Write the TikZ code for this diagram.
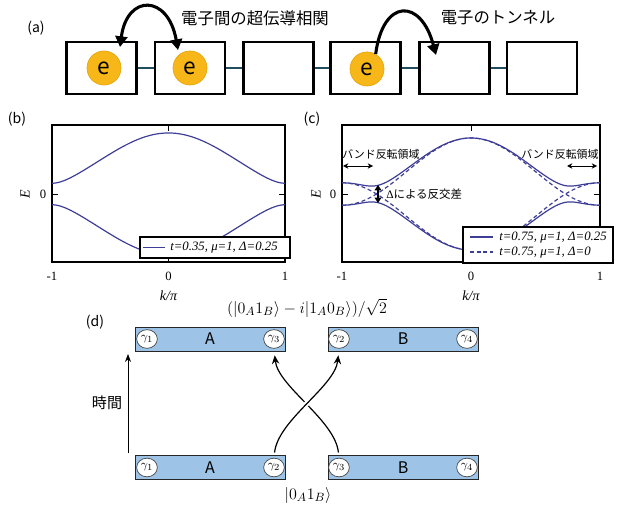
\documentclass[tikz,border=0pt]{standalone}
\usepackage{fontspec}
\setmainfont{Liberation Serif}
\newfontfamily\jp{Noto Sans CJK JP}
\usetikzlibrary{arrows.meta,shapes.geometric}
\definecolor{eorange}{HTML}{F7B718}
\definecolor{eborder}{HTML}{E6A40C}
\definecolor{bandblue}{HTML}{3E3E98}
\definecolor{barblue}{HTML}{9DC3E6}
\definecolor{linkteal}{HTML}{1F4E5F}
\tikzset{
  site/.style={draw=black,line width=2pt,minimum width=52.5pt,minimum height=39pt,inner sep=0pt},
  electron/.style={circle,fill=eorange,draw=eborder,line width=0.5pt,minimum size=25.5pt,inner sep=0pt,font=\jp\fontsize{17}{17}\selectfont},
  link/.style={draw=linkteal,line width=0.8pt},
  hop/.style={line width=2.3pt},
  hoptip/.style={-{Triangle[length=8pt,width=9pt]}},
  band/.style={draw=bandblue,line width=0.9pt},
  frame/.style={draw=black,line width=0.9pt},
  ticklab/.style={font=\fontsize{9.5}{10}\selectfont},
  axlab/.style={font=\fontsize{10.5}{11}\selectfont\itshape},
  panel/.style={font=\jp\fontsize{10.5}{11}\selectfont},
  jlabel/.style={font=\jp\fontsize{12.3}{13}\selectfont},
  note/.style={font=\jp\fontsize{8.2}{9}\selectfont,inner sep=0pt},
  legbox/.style={draw=black,line width=0.9pt,fill=white,inner sep=0pt},
  legtext/.style={font=\fontsize{9.6}{10}\selectfont\itshape,anchor=west,inner sep=0pt},
  bar/.style={draw=black!85,line width=0.7pt,fill=barblue,minimum width=112.5pt,minimum height=18pt,inner sep=0pt},
  barlab/.style={font=\jp\fontsize{12}{12}\selectfont,inner sep=0pt},
  mf/.style={ellipse,draw=black!75,line width=0.5pt,fill=white,minimum width=15.5pt,minimum height=14pt,inner sep=0pt,font=\fontsize{9.5}{9.5}\selectfont},
  braid/.style={line width=0.9pt,-{Stealth[length=6.5pt,width=5.5pt]},shorten <=4pt,shorten >=5pt},
  thinarr/.style={line width=0.6pt,{Stealth[length=4pt,width=4pt]}-{Stealth[length=4pt,width=4pt]}},
}
\begin{document}
\begin{tikzpicture}[x=0.75pt,y=-0.75pt]
\useasboundingbox (0,0) rectangle (627,509);
% ---------------- (a)
\node[panel] (la) at (36,28) {(a)};
\node[site] (s1) at (101.5,68) {};
\node[site] (s2) at (190,68) {};
\node[site] (s3) at (278.5,68) {};
\node[site] (s4) at (365.5,68) {};
\node[site] (s5) at (454.5,68) {};
\node[site] (s6) at (542,68) {};
\draw[link] (s1.east) -- (s2.west);
\draw[link] (s2.east) -- (s3.west);
\draw[link] (s3.east) -- (s4.west);
\draw[link] (s4.east) -- (s5.west);
\draw[link] (s5.east) -- (s6.west);
\node[electron] (e1) at (104,68) {e};
\node[electron] (e2) at (190,68) {e};
\node[electron] (e3) at (367,69) {e};
\coordinate (h1a) at (120,47);
\coordinate (h1b) at (178,50);
\coordinate (h2b) at (436,55);
\draw[hop,{Triangle[length=8pt,width=9pt]}-{Triangle[length=8pt,width=9pt]}] (h1a) .. controls (127,-6) and (168,-6) .. (h1b);
\draw[hop,hoptip] (e3.60) .. controls (383,-2) and (421,-2) .. (h2b);
\node[jlabel] (t1) at (255,18) {電子間の超伝導相関};
\node[jlabel] (t2) at (498,18) {電子のトンネル};
% ---------------- (b)
\node[panel] (lb) at (17,119) {(b)};
\draw[frame] (52,125) rectangle (285,262);
\foreach \xx in {52,168.5,285}{
  \draw[frame,line width=0.7pt] (\xx,125) -- (\xx,131);
  \draw[frame,line width=0.7pt] (\xx,262) -- (\xx,256);
}
\draw[frame,line width=0.7pt] (52,194) -- (58,194);
\draw[frame,line width=0.7pt] (285,194) -- (279,194);
\draw[band] plot[domain=-1:1,samples=121] ({168.5+116.5*\x},{194-35.9*sqrt((0.7*cos(180*\x)+1)*(0.7*cos(180*\x)+1)+(0.5*sin(180*\x))*(0.5*sin(180*\x)))});
\draw[band] plot[domain=-1:1,samples=121] ({168.5+116.5*\x},{194+35.9*sqrt((0.7*cos(180*\x)+1)*(0.7*cos(180*\x)+1)+(0.5*sin(180*\x))*(0.5*sin(180*\x)))});
\node[ticklab] (bx1) at (52,276) {-1};
\node[ticklab] (bx2) at (168.5,276) {0};
\node[ticklab] (bx3) at (285,276) {1};
\node[axlab] (bk) at (168.5,296) {k/π};
\node[axlab,rotate=90] (bE) at (25,194) {E};
\node[ticklab] (b0) at (43,194) {0};
\node[legbox,minimum width=112.5pt,minimum height=15.75pt] (lgb) at (215,247.5) {};
\draw[band] (143,247.5) -- (165,247.5);
\node[legtext] (lgbt) at (170,248) {t=0.35, μ=1, Δ=0.25};
% ---------------- (c)
\node[panel] (lc) at (312,119) {(c)};
\draw[frame] (342,125) rectangle (600,262);
\foreach \xx in {342,471,600}{
  \draw[frame,line width=0.7pt] (\xx,125) -- (\xx,131);
  \draw[frame,line width=0.7pt] (\xx,262) -- (\xx,256);
}
\draw[frame,line width=0.7pt] (342,194) -- (348,194);
\draw[frame,line width=0.7pt] (600,194) -- (594,194);
\draw[band,dashed,dash pattern=on 3pt off 2pt] plot[domain=-1:1,samples=161] ({471+129*\x},{194-22.4*abs(1.5*cos(180*\x)+1)});
\draw[band,dashed,dash pattern=on 3pt off 2pt] plot[domain=-1:1,samples=161] ({471+129*\x},{194+22.4*abs(1.5*cos(180*\x)+1)});
\draw[band] plot[domain=-1:1,samples=161] ({471+129*\x},{194-22.4*sqrt((1.5*cos(180*\x)+1)*(1.5*cos(180*\x)+1)+(0.5*sin(180*\x))*(0.5*sin(180*\x)))});
\draw[band] plot[domain=-1:1,samples=161] ({471+129*\x},{194+22.4*sqrt((1.5*cos(180*\x)+1)*(1.5*cos(180*\x)+1)+(0.5*sin(180*\x))*(0.5*sin(180*\x)))});
\node[ticklab] (cx1) at (342,276) {-1};
\node[ticklab] (cx2) at (471,276) {0};
\node[ticklab] (cx3) at (600,276) {1};
\node[axlab] (ck) at (471,296) {k/π};
\node[axlab,rotate=90] (cE) at (316,194) {E};
\node[ticklab] (c0) at (333,194) {0};
\node[note] (n1) at (381,154) {バンド反転領域};
\node[note] (n2) at (560,154) {バンド反転領域};
\coordinate (a1l) at (343,166); \coordinate (a1r) at (373,166);
\coordinate (a2l) at (567,166); \coordinate (a2r) at (597,166);
\draw[thinarr] (a1l) -- (a1r);
\draw[thinarr] (a2l) -- (a2r);
\coordinate (gt) at (378,185); \coordinate (gb) at (378,203);
\draw[line width=1.4pt,{Triangle[length=4pt,width=5pt]}-{Triangle[length=4pt,width=5pt]}] (gt) -- (gb);
\node[note,anchor=west,font=\jp\fontsize{8.6}{9}\selectfont] (n3) at (386,194) {{\rmfamily Δ}による反交差};
\node[legbox,minimum width=112.5pt,minimum height=27pt] (lgc) at (538,245) {};
\draw[band] (470,237) -- (493,237);
\draw[band,dashed,dash pattern=on 3pt off 2pt] (470,252) -- (493,252);
\node[legtext] (lgc1) at (499,237.5) {t=0.75, μ=1, Δ=0.25};
\node[legtext] (lgc2) at (499,252.5) {t=0.75, μ=1, Δ=0};
% ---------------- (d)
\node[panel] (ld) at (95,322) {(d)};
\node (tt) at (307,308) {\fontsize{13}{13}\selectfont$(|0_A1_B\rangle-i|1_A0_B\rangle)/\sqrt{2}$};
\node[bar] (At) at (210,339) {};
\node[bar] (Bt) at (403,339) {};
\node[bar] (Ab) at (210,467.5) {};
\node[bar] (Bb) at (403,467.5) {};
\node[barlab] at (At) {A};
\node[barlab] at (Bt) {B};
\node[barlab] at (Ab) {A};
\node[barlab] at (Bb) {B};
\node[mf] (g1t) at (147,339) {$\gamma_1$};
\node[mf] (g3t) at (274,339) {$\gamma_3$};
\node[mf] (g2t) at (339,339) {$\gamma_2$};
\node[mf] (g4t) at (467,339) {$\gamma_4$};
\node[mf] (g1b) at (147,467.5) {$\gamma_1$};
\node[mf] (g2b) at (274,467.5) {$\gamma_2$};
\node[mf] (g3b) at (339,467.5) {$\gamma_3$};
\node[mf] (g4b) at (467,467.5) {$\gamma_4$};
\draw[braid] (g3b.north) .. controls +(-4,-38) and +(4,38) .. (g3t.south);
\draw[braid,preaction={draw=white,line width=4pt,shorten <=14pt,shorten >=14pt}] (g2b.north) .. controls +(4,-38) and +(-4,38) .. (g2t.south);
\node (kb) at (308,495) {\fontsize{13}{13}\selectfont$|0_A1_B\rangle$};
\coordinate (tb) at (128,453);
\coordinate (ttop) at (128,354);
\draw[line width=0.6pt,-{Stealth[length=6pt,width=4.5pt]}] (tb) -- (ttop);
\node[font=\jp\fontsize{11.3}{12}\selectfont] (time) at (107,403) {時間};
\end{tikzpicture}
\end{document}
